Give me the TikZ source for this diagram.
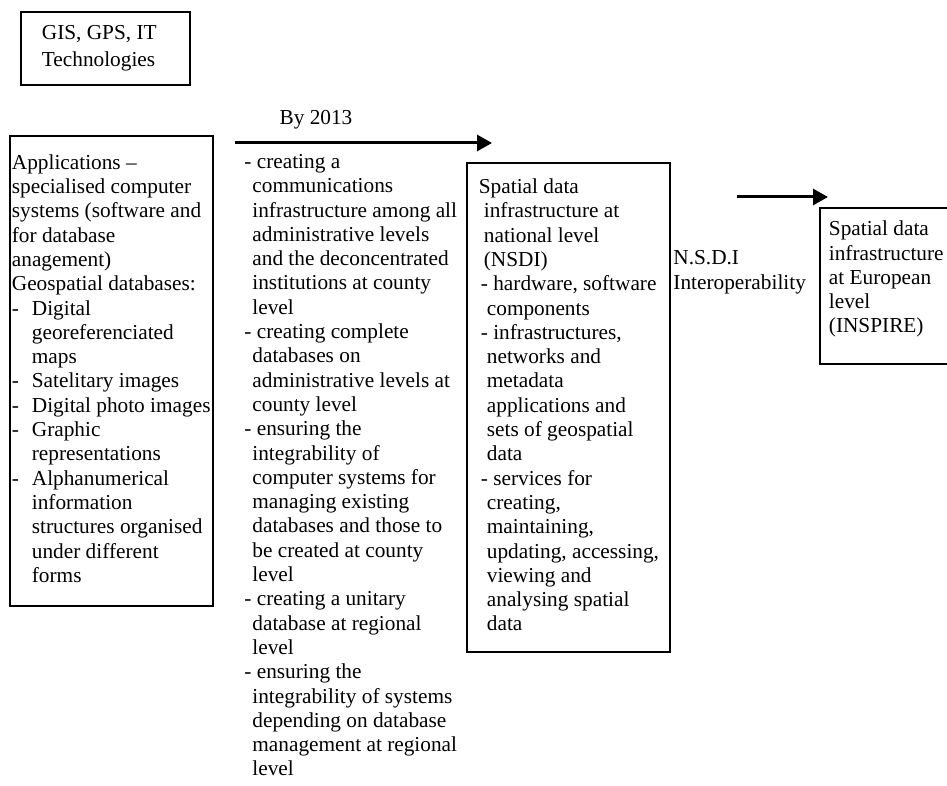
\documentclass[tikz,border=0pt]{standalone}
\usepackage{fontspec}
\setmainfont{Liberation Serif}
\usepackage{tikz}
\usetikzlibrary{arrows.meta}
\newlength\px
\setlength\px{0.5pt}
\tikzstyle{framebox}=[rectangle,draw=black,line width=0.9pt,anchor=north west,
                      inner ysep=0pt]
\tikzstyle{plaintext}=[inner sep=0pt]
\tikzstyle{flowarrow}=[line width=1.5pt,-{Triangle[length=7.5pt,width=8pt]}]
\newcommand\boxlabel[2]{\makebox[#1\px][l]{\begin{tabular}{@{}l@{}}#2\end{tabular}}}
\newcommand\indentby[1]{\hspace*{#1\px}}
\newcommand\itemdash{\makebox[20\px][l]{-}}

\begin{document}
\begin{tikzpicture}[x=0.5pt,y=-0.5pt,font={\fontsize{10.65}{12.15}\selectfont}]
    \useasboundingbox (0,0) rectangle (947,786);
    \clip (0,0) rectangle (947,786);
    	\node [framebox,inner xsep=21\px,minimum height=73\px] (tech) at (20,11) {
    		\boxlabel{127}{GIS, GPS, IT\\[3\px] Technologies}
    	};
    	\node [framebox,inner xsep=2\px,minimum height=470\px] (apps) at (9,135) {
    		\boxlabel{199}{Applications --\\
    		specialised computer\\
    		systems (software and\\
    		for database\\
    		anagement)\\
    		Geospatial databases:\\
    		\itemdash Digital\\
    		\indentby{20}georeferenciated\\
    		\indentby{20}maps\\
    		\itemdash Satelitary images\\
    		\itemdash Digital photo images\\
    		\itemdash Graphic\\
    		\indentby{20}representations\\
    		\itemdash Alphanumerical\\
    		\indentby{20}information\\
    		\indentby{20}structures organised\\
    		\indentby{20}under different\\
    		\indentby{20}forms}
    	};
    	\node [plaintext] (year) at (316,120) {By 2013};
    	\coordinate (year start) at (235,143);
    	\coordinate (year end) at (492,143);
    	\node [plaintext,anchor=north west] (tasks) at (244,151) {
    		\boxlabel{215}{- creating a\\
    		\indentby{8}communications\\
    		\indentby{8}infrastructure among all\\
    		\indentby{8}administrative levels\\
    		\indentby{8}and the deconcentrated\\
    		\indentby{8}institutions at county\\
    		\indentby{8}level\\
    		- creating complete\\
    		\indentby{8}databases on\\
    		\indentby{8}administrative levels at\\
    		\indentby{8}county level\\
    		- ensuring the\\
    		\indentby{8}integrability of\\
    		\indentby{8}computer systems for\\
    		\indentby{8}managing existing\\
    		\indentby{8}databases and those to\\
    		\indentby{8}be created at county\\
    		\indentby{8}level\\
    		- creating a unitary\\
    		\indentby{8}database at regional\\
    		\indentby{8}level\\
    		- ensuring the\\
    		\indentby{8}integrability of systems\\
    		\indentby{8}depending on database\\
    		\indentby{8}management at regional\\
    		\indentby{8}level}
    	};
    	\node [framebox,inner xsep=12\px,minimum height=489\px] (nsdi) at (466,162) {
    		\boxlabel{179}{Spatial data\\
    		\indentby{5}infrastructure at\\
    		\indentby{5}national level\\
    		\indentby{5}(NSDI)\\
    		\indentby{2}- hardware, software\\
    		\indentby{8}components\\
    		\indentby{2}- infrastructures,\\
    		\indentby{8}networks and\\
    		\indentby{8}metadata\\
    		\indentby{8}applications and\\
    		\indentby{8}sets of geospatial\\
    		\indentby{8}data\\
    		\indentby{2}- services for\\
    		\indentby{8}creating,\\
    		\indentby{8}maintaining,\\
    		\indentby{8}updating, accessing,\\
    		\indentby{8}viewing and\\
    		\indentby{8}analysing spatial\\
    		\indentby{8}data}
    	};
    	\node [plaintext,anchor=west] (interop) at (673,272) {
    		\boxlabel{130}{N.S.D.I\\ Interoperability}
    	};
    	\coordinate (eu start) at (737,197);
    	\coordinate (eu end) at (828,197);
    	\node [framebox,inner xsep=9\px,minimum height=156\px,text depth=68\px] (inspire) at (819,207) {
    		\boxlabel{123}{Spatial data\\
    		infrastructure\\
    		at European\\
    		level\\
    		(INSPIRE)}
    	};
    	\draw [flowarrow] (year start) -- (year end);
    	\draw [flowarrow] (eu start) -- (eu end);
    \end{tikzpicture}
\end{document}
